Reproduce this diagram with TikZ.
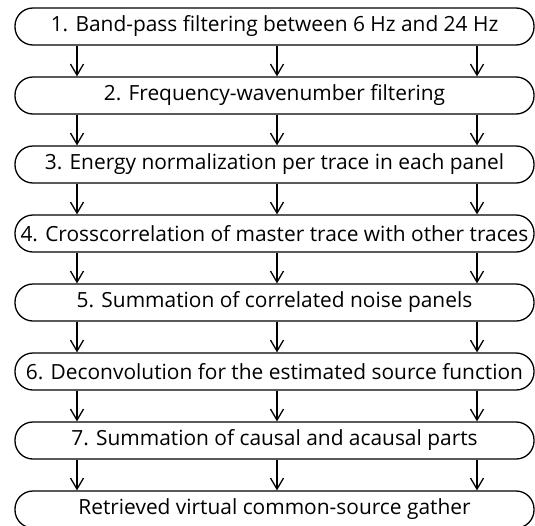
\documentclass[tikz,border=0pt]{standalone}
\usepackage{fontspec}
\setmainfont{Open Sans}
\usetikzlibrary{arrows.meta}
\begin{document}
\begin{tikzpicture}[x=1pt,y=-1pt,
  stepbox/.style={draw,line width=1.3pt,rounded corners=18pt,minimum width=519pt,minimum height=37pt,inner sep=0pt,font=\fontsize{20.9}{24}\selectfont},
  flow/.style={line width=1.3pt,-{Straight Barb[length=11pt,width=13pt]}}]
\useasboundingbox (0,0) rectangle (535,525);
\begin{scope}
\clip (0,0) rectangle (535,525);
\node[stepbox] (b1) at (274.5,26.5) {1. Band-pass filtering between 6 Hz and 24 Hz};
\node[stepbox] (b2) at (274.5,95.5) {2. Frequency-wavenumber filtering};
\node[stepbox] (b3) at (274.5,164.5) {3. Energy normalization per trace in each panel};
\node[stepbox] (b4) at (274.5,233.5) {4. Crosscorrelation of master trace with other traces};
\node[stepbox] (b5) at (274.5,302.5) {5. Summation of correlated noise panels};
\node[stepbox] (b6) at (274.5,371.5) {6. Deconvolution for the estimated source function};
\node[stepbox] (b7) at (274.5,440.5) {7. Summation of causal and acausal parts};
\node[stepbox] (b8) at (274.5,509.5) {Retrieved virtual common-source gather};
\end{scope}
\foreach \a/\b in {b1/b2,b2/b3,b3/b4,b4/b5,b5/b6,b6/b7,b7/b8}{
  \foreach \x in {77,277,477}{
    \draw[flow] (\x,0 |- \a.south) -- (\x,0 |- \b.north);
  }
}
\end{tikzpicture}
\end{document}
